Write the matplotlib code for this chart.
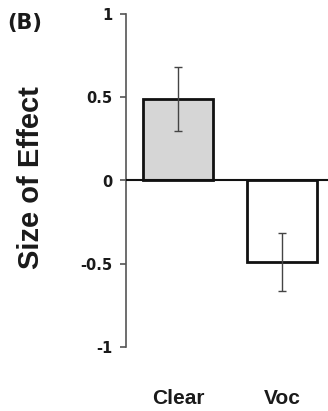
import matplotlib
matplotlib.use('Agg')
import matplotlib.pyplot as plt
import numpy as np

plt.rcParams['font.family'] = ['Liberation Sans', 'DejaVu Sans']
plt.rcParams['font.weight'] = 'bold'

categories = ['Clear', 'Voc']
effect = [0.49, -0.49]
err = [0.19, 0.175]
fills = ['#d6d6d6', 'white']

fig = plt.figure(figsize=(3.28, 4.11), dpi=100)
ax = fig.add_axes([126 / 328, 1 - 347 / 411, 1 - 126 / 328, 333 / 411])

x = np.arange(len(categories))
ax.bar(x, effect, width=0.673, color=fills, edgecolor='#111111', linewidth=2, zorder=2)
ax.errorbar(x, effect, yerr=err, fmt='none', ecolor='#444444', elinewidth=1,
            capsize=3, capthick=1, zorder=3)
ax.axhline(0, color='#111111', linewidth=1.5, zorder=4)

ax.set_xlim(-0.5, 1.442)
ax.set_ylim(-1, 1)
ax.set_yticks([-1, -0.5, 0, 0.5, 1])
ax.set_yticklabels(['-1', '-0.5', '0', '0.5', '1'], family='DejaVu Sans',
                   fontsize=10.5, fontweight='bold')
ax.set_xticks(x)
ax.set_xticklabels(categories, fontsize=15, fontweight='bold', color='#1a1a1a')

for side in ['top', 'right', 'bottom']:
    ax.spines[side].set_visible(False)
ax.spines['left'].set_color('#555555')
ax.spines['left'].set_linewidth(1.2)
ax.tick_params(axis='y', direction='out', length=4.5, width=1.2, color='#555555',
               labelcolor='#1a1a1a', pad=5)
ax.tick_params(axis='x', length=0, pad=30)

fig.text(31 / 328, 1 - 178 / 411, 'Size of Effect', rotation=90, ha='center', va='center',
         fontsize=21, fontweight='bold', color='#1a1a1a')
fig.text(7 / 328, 1 - 23 / 411, '(B)', ha='left', va='center', family='DejaVu Sans',
         fontsize=15, fontweight='bold', color='#1a1a1a')

fig.savefig('out.png', dpi=100)
